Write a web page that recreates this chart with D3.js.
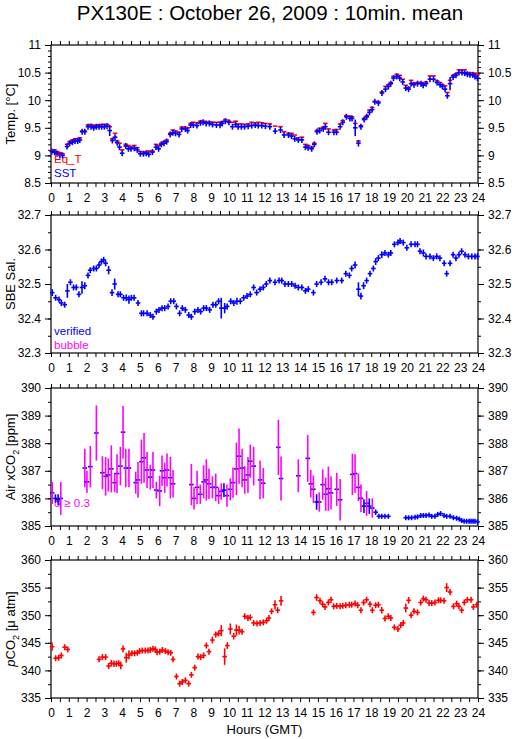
<!DOCTYPE html>
<html><head><meta charset="utf-8">
<script src="https://cdn.jsdelivr.net/npm/d3@7"></script>
<style>body{margin:0;background:#fff}svg{display:block}</style>
</head><body><svg id="c" width="515" height="739"></svg>
<script>
// ---------- DATA ----------
const hourLabels = d3.range(0, 25);
const tempTicks = [8.5, 9, 9.5, 10, 10.5, 11];
const salTicks = [32.3, 32.4, 32.5, 32.6, 32.7];
const xco2Ticks = [385, 386, 387, 388, 389, 390];
const pco2Ticks = [335, 340, 345, 350, 355, 360];

// [hour, SST, sd, Eq_T]
const tempData = [
[0.05,9.07,0.02,9.08],[0.2,9.06,0.02,9.1],[0.35,9.03,0.02,9.07],[0.5,9.0,0.02,9.05],[0.65,9.0,0.02,9.03],
[0.9,9.16,0.03,9.2],[1.05,9.22,0.02,9.25],[1.2,9.24,0.02,9.28],[1.35,9.26,0.02,9.3],[1.5,9.26,0.02,9.3],
[1.62,9.28,0.02,9.32],[1.75,9.43,0.03,9.44],[1.9,9.43,0.03,9.44],[2.08,9.52,0.02,9.55],[2.25,9.52,0.02,9.56],
[2.4,9.5,0.02,9.54],[2.55,9.52,0.02,9.55],[2.7,9.52,0.02,9.55],[2.85,9.52,0.02,9.56],[3.0,9.52,0.02,9.56],
[3.15,9.53,0.02,9.56],[3.3,9.45,0.1,9.52],[3.45,9.27,0.03,9.3],[3.6,9.33,0.05,9.4],[3.72,9.23,0.03,9.26],
[3.85,9.15,0.04,9.22],[4.0,9.04,0.04,9.1],[4.2,9.17,0.02,9.2],[4.35,9.12,0.03,9.18],[4.5,9.12,0.02,9.15],
[4.68,9.13,0.02,9.18],[4.85,9.1,0.02,9.14],[5.02,9.03,0.02,9.07],[5.2,9.03,0.02,9.06],[5.35,9.04,0.02,9.06],
[5.5,9.02,0.02,9.08],[5.7,9.06,0.02,9.08],[5.9,9.15,0.02,9.2],[6.05,9.12,0.02,9.18],[6.2,9.2,0.02,9.22],
[6.35,9.22,0.02,9.25],[6.5,9.25,0.02,9.28],[6.7,9.38,0.04,9.4],[6.85,9.41,0.02,9.46],[7.0,9.4,0.02,9.44],
[7.2,9.38,0.04,9.42],[7.35,9.48,0.02,9.51],[7.55,9.48,0.02,9.51],[7.68,9.45,0.02,9.5],[7.85,9.55,0.02,9.58],
[8.0,9.55,0.02,9.6],[8.2,9.54,0.02,9.59],[8.4,9.59,0.03,9.62],[8.55,9.6,0.02,9.62],[8.72,9.58,0.02,9.6],
[8.9,9.58,0.02,9.61],[9.08,9.56,0.02,9.6],[9.3,9.55,0.02,9.6],[9.5,9.55,0.06,9.6],[9.62,9.58,0.02,9.61],
[9.8,9.62,0.03,9.65],[10.0,9.6,0.02,9.62],[10.2,9.52,0.03,9.6],[10.38,9.56,0.02,9.62],[10.52,9.52,0.03,9.57],
[10.7,9.52,0.02,9.57],[10.88,9.52,0.02,9.56],[11.08,9.53,0.02,9.57],[11.28,9.54,0.02,9.6],[11.48,9.55,0.02,9.59],
[11.65,9.54,0.02,9.6],[11.85,9.54,0.02,9.59],[12.05,9.53,0.02,9.58],[12.3,9.52,0.02,9.57],[12.6,9.44,0.03,9.53],
[12.9,9.46,0.02,9.52],[13.1,9.37,0.02,9.43],[13.35,9.37,0.02,9.4],[13.52,9.35,0.02,9.4],[13.7,9.3,0.02,9.37],
[13.9,9.28,0.02,9.32],[14.1,9.28,0.04,9.33],[14.3,9.15,0.02,9.2],[14.45,9.14,0.02,9.18],[14.65,9.12,0.02,9.15],
[14.8,9.2,0.04,9.22],[14.95,9.43,0.03,9.45],[15.1,9.45,0.02,9.49],[15.3,9.48,0.02,9.51],[15.42,9.52,0.02,9.58],
[15.6,9.42,0.02,9.48],[15.9,9.42,0.02,9.46],[16.05,9.42,0.02,9.47],[16.25,9.52,0.03,9.57],[16.4,9.6,0.02,9.63],
[16.6,9.7,0.02,9.72],[16.8,9.67,0.02,9.71],[16.92,9.67,0.02,9.7],[17.1,9.5,0.15,9.58],[17.28,9.22,0.06,9.26],
[17.42,9.52,0.05,9.54],[17.6,9.65,0.02,9.67],[17.75,9.7,0.02,9.72],[17.9,9.78,0.03,9.82],[18.05,9.83,0.02,9.87],
[18.2,9.97,0.03,9.98],[18.4,9.95,0.02,9.97],[18.6,10.13,0.04,10.15],[18.8,10.2,0.02,10.25],[18.96,10.25,0.03,10.28],
[19.1,10.3,0.03,10.32],[19.25,10.4,0.02,10.43],[19.43,10.43,0.02,10.47],[19.6,10.4,0.04,10.45],[19.77,10.33,0.03,10.38],
[19.94,10.22,0.02,10.27],[20.1,10.2,0.04,10.23],[20.24,10.3,0.03,10.36],[20.4,10.28,0.02,10.31],[20.6,10.3,0.02,10.32],
[20.8,10.3,0.02,10.32],[20.92,10.27,0.02,10.3],[21.08,10.3,0.03,10.33],[21.3,10.38,0.02,10.44],[21.5,10.38,0.02,10.44],
[21.7,10.32,0.02,10.35],[21.87,10.28,0.02,10.32],[22.0,10.25,0.04,10.28],[22.15,10.2,0.02,10.26],[22.28,10.08,0.03,10.14],
[22.43,10.3,0.12,10.36],[22.6,10.42,0.04,10.45],[22.76,10.45,0.02,10.48],[22.93,10.5,0.02,10.55],[23.1,10.5,0.02,10.55],
[23.25,10.49,0.02,10.55],[23.4,10.47,0.02,10.5],[23.55,10.46,0.02,10.49],[23.7,10.46,0.02,10.49],[23.83,10.43,0.02,10.49],
[23.97,10.4,0.02,10.46]
];

// [hour, salinity, sd]
const salData = [
[0.07,32.475,0.01],[0.26,32.46,0.004],[0.45,32.455,0.004],[0.58,32.445,0.005],[0.77,32.44,0.004],[0.92,32.48,0.02],
[1.09,32.505,0.006],[1.27,32.49,0.005],[1.42,32.49,0.006],[1.57,32.47,0.007],[1.74,32.49,0.018],[1.9,32.495,0.01],
[2.08,32.525,0.004],[2.2,32.54,0.007],[2.4,32.545,0.008],[2.55,32.545,0.008],[2.7,32.555,0.006],[2.83,32.565,0.006],
[2.96,32.57,0.005],[3.07,32.56,0.004],[3.24,32.54,0.012],[3.43,32.475,0.01],[3.58,32.5,0.016],[3.77,32.47,0.007],
[3.9,32.47,0.006],[4.08,32.46,0.005],[4.23,32.46,0.01],[4.38,32.455,0.012],[4.52,32.46,0.005],[4.67,32.46,0.004],
[4.89,32.445,0.004],[5.08,32.415,0.008],[5.2,32.415,0.005],[5.4,32.415,0.004],[5.58,32.41,0.004],[5.73,32.405,0.004],
[5.92,32.42,0.006],[6.07,32.425,0.008],[6.24,32.43,0.006],[6.39,32.43,0.004],[6.58,32.435,0.004],[6.73,32.45,0.008],
[6.9,32.45,0.006],[7.05,32.435,0.004],[7.23,32.415,0.008],[7.38,32.43,0.005],[7.55,32.425,0.005],[7.74,32.41,0.005],
[7.89,32.405,0.008],[8.08,32.42,0.004],[8.26,32.425,0.004],[8.41,32.42,0.005],[8.58,32.43,0.006],[8.73,32.43,0.004],
[8.92,32.425,0.004],[9.1,32.44,0.005],[9.26,32.44,0.005],[9.42,32.45,0.007],[9.57,32.43,0.03],[9.76,32.43,0.015],
[9.9,32.435,0.005],[10.1,32.45,0.006],[10.27,32.445,0.008],[10.45,32.45,0.01],[10.64,32.45,0.008],[10.83,32.46,0.004],
[11.02,32.465,0.004],[11.2,32.47,0.006],[11.39,32.49,0.004],[11.56,32.475,0.007],[11.75,32.485,0.006],[11.93,32.49,0.005],
[12.1,32.5,0.006],[12.3,32.51,0.004],[12.59,32.505,0.008],[12.82,32.51,0.006],[12.97,32.51,0.004],[13.15,32.5,0.004],
[13.34,32.5,0.004],[13.53,32.5,0.004],[13.72,32.495,0.004],[13.9,32.49,0.004],[14.1,32.49,0.006],[14.3,32.48,0.004],
[14.46,32.485,0.004],[14.75,32.475,0.004],[14.93,32.5,0.008],[15.18,32.505,0.004],[15.4,32.515,0.006],[15.6,32.505,0.008],
[15.78,32.505,0.004],[16.06,32.51,0.005],[16.34,32.51,0.004],[16.57,32.53,0.008],[16.77,32.525,0.004],[16.9,32.545,0.006],
[17.09,32.555,0.01],[17.28,32.485,0.02],[17.42,32.465,0.01],[17.57,32.495,0.01],[17.74,32.51,0.006],[17.93,32.53,0.007],
[18.12,32.545,0.004],[18.25,32.565,0.01],[18.4,32.575,0.008],[18.59,32.585,0.01],[18.77,32.59,0.006],[18.96,32.585,0.004],
[19.1,32.59,0.008],[19.3,32.615,0.004],[19.5,32.62,0.004],[19.62,32.625,0.003],[19.8,32.62,0.006],[20.0,32.605,0.006],
[20.24,32.615,0.004],[20.46,32.615,0.004],[20.6,32.615,0.008],[20.74,32.595,0.004],[20.93,32.59,0.01],[21.08,32.58,0.008],
[21.3,32.58,0.004],[21.49,32.575,0.004],[21.68,32.58,0.003],[21.86,32.575,0.004],[22.1,32.56,0.008],[22.24,32.53,0.008],
[22.43,32.56,0.008],[22.6,32.585,0.004],[22.76,32.575,0.005],[22.93,32.585,0.007],[23.08,32.595,0.003],[23.27,32.585,0.005],
[23.46,32.58,0.003],[23.65,32.58,0.003],[23.83,32.58,0.003],[23.97,32.58,0.003]
];

// [hour, air xCO2, sd]
const xco2Data = [
[0.07,386.2,0.4],[0.25,386.0,0.15],[0.4,385.95,0.2],[0.55,386.0,0.6],
[1.9,387.1,0.7],[2.02,386.6,0.4],[2.21,387.15,0.75],[2.55,388.37,1.0],[2.89,386.93,0.6],[3.07,386.8,0.7],
[3.22,386.85,0.6],[3.39,387.07,0.85],[3.58,386.57,0.35],[3.71,386.9,0.7],[3.9,387.17,0.7],[4.05,388.4,0.95],
[4.2,387.1,0.7],[4.38,387.1,0.7],[4.76,386.57,0.4],[4.89,386.67,0.65],[5.08,387.33,0.8],[5.23,387.47,0.9],
[5.4,387.03,0.65],[5.58,386.77,0.45],[5.73,387.03,0.65],[5.92,386.3,0.3],[6.11,386.27,0.55],[6.24,387.0,0.55],
[6.39,386.75,0.55],[6.52,387.03,0.6],[6.71,386.75,0.75],[6.86,386.53,0.5],
[7.89,386.5,0.75],[8.04,386.0,0.4],[8.21,386.4,0.6],[8.39,386.15,0.35],[8.58,386.6,0.6],[8.73,386.67,0.75],
[8.88,386.53,0.55],[9.07,386.4,0.4],[9.26,386.4,0.5],[9.42,386.1,0.3],[9.57,386.25,0.3],[9.72,386.3,0.25],
[9.89,386.1,0.4],[10.08,386.33,0.4],[10.23,386.57,0.55],[10.42,387.07,0.95],[10.57,387.53,1.0],[10.74,387.1,0.7],
[10.89,386.67,0.5],[11.07,386.85,0.65],[11.2,387.35,0.6],[11.39,387.17,0.7],[11.75,386.67,0.7],[11.93,386.55,0.55],
[12.78,387.85,1.0],[12.93,386.72,0.8],[13.9,386.82,0.6],[14.43,387.45,0.85],[14.6,386.53,0.5],[14.75,386.33,0.5],
[14.93,385.87,0.28],[15.08,385.87,0.35],[15.27,386.5,0.55],[15.44,386.15,0.6],[15.59,386.35,0.8],[15.74,386.2,0.6],
[16.06,386.33,0.6],[16.25,385.95,0.75],
[16.94,386.87,0.75],[17.09,386.9,0.7],[17.28,386.4,0.5],[17.42,386.0,0.5],[17.59,385.72,0.25],[17.74,385.82,0.45],
[17.89,385.72,0.28],[18.06,385.65,0.35],[18.25,385.5,0.1],[18.43,385.35,0.03],[18.59,385.35,0.03],[18.77,385.35,0.03],
[18.96,385.35,0.03],
[19.94,385.3,0.05],[20.1,385.3,0.03],[20.27,385.3,0.03],[20.46,385.32,0.03],[20.6,385.33,0.03],[20.78,385.38,0.04],
[20.93,385.38,0.03],[21.08,385.38,0.03],[21.25,385.4,0.03],[21.4,385.35,0.03],[21.58,385.35,0.03],[21.74,385.42,0.03],
[21.9,385.45,0.04],[22.09,385.38,0.04],[22.24,385.35,0.03],[22.43,385.35,0.03],[22.62,385.3,0.03],[22.8,385.28,0.03],
[22.95,385.25,0.03],[23.08,385.2,0.03],[23.22,385.17,0.03],[23.36,385.17,0.03],[23.5,385.17,0.03],[23.61,385.17,0.03],
[23.72,385.17,0.03],[23.83,385.17,0.03],[23.97,385.15,0.03]
];

// [hour, pCO2, sd]
const pco2Data = [
[0.06,344.3,0.75],[0.26,342.2,0.15],[0.43,342.3,0.15],[0.58,342.7,0.5],[0.77,344.2,0.15],[0.94,343.8,0.4],
[2.7,342.0,0.2],[2.89,342.4,0.2],[3.07,342.4,0.2],[3.24,340.8,0.5],[3.39,341.3,0.6],[3.54,341.2,0.6],
[3.67,341.2,0.3],[3.8,341.3,0.3],[3.92,340.9,0.7],[4.05,343.9,0.6],[4.23,342.3,0.9],[4.38,342.8,0.8],
[4.55,343.1,0.3],[4.7,343.1,0.4],[4.85,343.2,0.2],[4.98,343.5,0.2],[5.13,343.6,0.2],[5.3,343.6,0.15],
[5.45,343.6,0.15],[5.58,343.7,0.2],[5.73,343.9,0.2],[5.86,343.8,0.15],[5.96,343.3,0.15],[6.11,343.4,0.15],
[6.26,343.7,0.15],[6.43,343.5,0.15],[6.58,343.3,0.15],[6.73,343.2,0.2],[6.86,342.0,0.5],[7.05,338.9,0.3],
[7.23,337.6,0.3],[7.38,337.9,0.2],[7.55,338.2,0.2],[7.74,337.6,0.2],[7.89,339.2,0.5],[8.08,340.5,0.5],
[8.26,342.5,0.2],[8.41,342.4,0.2],[8.58,342.7,0.5],[8.73,344.5,0.2],[8.88,343.4,0.3],[9.07,345.5,0.6],
[9.26,346.5,0.3],[9.42,346.7,0.2],[9.57,347.2,1.0],[9.76,342.5,1.5],[9.91,344.5,0.6],[10.08,347.5,1.0],
[10.27,346.2,0.6],[10.42,347.3,1.0],[10.57,347.3,0.8],[10.74,347.0,0.5],[10.89,349.8,0.2],[11.07,349.5,0.4],
[11.2,349.6,0.2],[11.39,348.6,0.15],[11.58,348.5,0.15],[11.75,348.6,0.1],[11.93,348.7,0.1],[12.12,349.0,0.15],
[12.25,349.5,0.4],[12.4,350.7,0.15],[12.59,351.9,0.8],[12.74,350.9,0.5],[12.93,352.6,0.9],
[14.75,350.5,0.2],[14.93,353.2,0.6],[15.12,352.6,0.2],[15.27,352.0,0.3],[15.4,351.5,0.2],[15.59,352.3,0.5],
[15.74,352.8,0.4],[15.89,351.6,0.15],[16.06,351.7,0.2],[16.25,351.6,0.15],[16.4,351.7,0.2],[16.57,351.8,0.5],
[16.77,351.9,0.4],[16.9,351.9,0.2],[17.09,352.1,0.3],[17.24,351.8,0.5],[17.42,350.9,0.4],[17.57,352.3,0.2],
[17.74,352.8,0.2],[17.93,352.0,0.4],[18.06,350.9,0.2],[18.25,351.8,0.5],[18.4,351.9,0.5],[18.59,350.9,0.6],
[18.77,349.4,0.2],[18.96,349.8,0.2],[19.1,349.5,0.5],[19.3,347.8,0.15],[19.5,347.5,0.15],[19.66,348.2,0.15],
[19.8,348.6,0.2],[19.94,351.3,0.8],[20.1,352.7,0.6],[20.24,350.0,0.4],[20.4,350.7,0.2],[20.6,350.5,0.4],
[20.78,352.3,0.4],[20.93,353.0,0.2],[21.08,352.8,0.4],[21.25,352.2,0.2],[21.4,352.2,0.15],[21.58,352.3,0.15],
[21.78,352.7,0.2],[21.9,352.7,0.2],[22.09,352.6,0.4],[22.24,355.0,0.8],[22.43,354.2,0.6],[22.62,351.6,0.2],
[22.8,352.1,0.2],[22.93,351.6,0.2],[23.08,350.9,0.2],[23.23,352.3,0.4],[23.4,352.8,0.2],[23.61,352.8,0.2],
[23.74,351.5,0.2],[23.93,351.9,0.2]
];

// ---------- LAYOUT ----------
const BLUE = "#0000ff", RED = "#ff0000", MAG = "#ff00ff";
const FONT = "'Liberation Sans', Arial, Helvetica, sans-serif";
const left = 51, right = 478, ph = 138;
const svg = d3.select("#c");
const x = d3.scaleLinear().domain([0, 24]).range([left, right]);
const halfStep = 1 / 12;

svg.append("text").attr("x", 270).attr("y", 20).attr("text-anchor", "middle")
  .attr("font-family", FONT).attr("font-size", 20.5).text("PX130E : October 26, 2009 : 10min. mean");

function panel(top, domain, major, minorStep, title) {
  const y = d3.scaleLinear().domain(domain).range([top + ph, top]);
  const g = svg.append("g");
  const minor = d3.range(domain[0], domain[1] + minorStep / 2, minorStep);
  const style = a => a.attr("font-family", FONT).attr("font-size", 12)
      .call(s => s.selectAll(".domain").remove())
      .call(s => s.selectAll("line").attr("stroke", "#000"))
      .call(s => s.selectAll("text").attr("fill", "#000"));
  g.append("g").attr("transform", `translate(0,${top + ph})`)
    .call(d3.axisBottom(x).tickValues(d3.range(0, 24.01, 0.5)).tickSize(4).tickFormat(""))
    .call(style);
  g.append("g").attr("transform", `translate(0,${top + ph})`)
    .call(d3.axisBottom(x).tickValues(hourLabels).tickSize(4).tickPadding(6).tickFormat(d3.format("d")))
    .call(style).call(s => s.selectAll("line").remove());
  g.append("g").attr("transform", `translate(0,${top})`)
    .call(d3.axisTop(x).tickValues(d3.range(0, 24.01, 0.5)).tickSize(4).tickFormat(""))
    .call(style);
  g.append("g").attr("transform", `translate(${left},0)`)
    .call(d3.axisLeft(y).tickValues(minor).tickSize(3).tickFormat("")).call(style);
  g.append("g").attr("transform", `translate(${left},0)`)
    .call(d3.axisLeft(y).tickValues(major).tickSize(6).tickPadding(4).tickFormat(d => String(d))).call(style);
  g.append("g").attr("transform", `translate(${right},0)`)
    .call(d3.axisRight(y).tickValues(minor).tickSize(3).tickFormat("")).call(style);
  g.append("g").attr("transform", `translate(${right},0)`)
    .call(d3.axisRight(y).tickValues(major).tickSize(6).tickPadding(4).tickFormat(d => String(d))).call(style);
  g.append("rect").attr("x", left).attr("y", top).attr("width", right - left).attr("height", ph)
    .attr("fill", "none").attr("stroke", "#000").attr("stroke-width", 1.2);
  const t = g.append("text").attr("transform", `translate(15,${top + ph / 2}) rotate(-90)`)
    .attr("text-anchor", "middle").attr("font-family", FONT).attr("font-size", 13);
  title(t);
  const data = g.append("g");
  return {y, g: data, top};
}

function marks(p, rows, vi, si, colorFn, minHalf, dashOnly) {
  const y = p.y;
  const sel = p.g.append("g").selectAll("g").data(rows).join("g");
  sel.append("line")
    .attr("x1", d => x(d[0] - halfStep)).attr("x2", d => x(d[0] + halfStep))
    .attr("y1", d => y(d[vi])).attr("y2", d => y(d[vi]))
    .attr("stroke", d => colorFn(d, "h")).attr("stroke-width", 1.6).attr("stroke-linecap", "square");
  if (!dashOnly) {
    sel.append("line")
      .attr("x1", d => x(d[0])).attr("x2", d => x(d[0]))
      .attr("y1", d => Math.min(y(d[vi] + d[si]), y(d[vi]) - minHalf))
      .attr("y2", d => Math.max(y(d[vi] - d[si]), y(d[vi]) + minHalf))
      .attr("stroke", d => colorFn(d, "v")).attr("stroke-width", 1.6);
  }
}

function legend(p, items, xx) {
  items.forEach(([txt, col, yy]) => {
    p.g.append("text").attr("x", xx).attr("y", yy).attr("font-family", FONT)
      .attr("font-size", 11.5).attr("fill", col).text(txt);
  });
}

// Panel 1: temperature
const p1 = panel(45, [8.5, 11], tempTicks, 0.1, t => t.text("Temp. [°C]"));
marks(p1, tempData, 3, 2, () => RED, 0, true);
marks(p1, tempData, 1, 2, () => BLUE, 3, false);
legend(p1, [["Eq_T", RED, 163], ["SST", BLUE, 177]], 54);

// Panel 2: salinity
const p2 = panel(215, [32.3, 32.7], salTicks, 0.05, t => t.text("SBE Sal."));
marks(p2, salData, 1, 2, () => BLUE, 3, false);
legend(p2, [["verified", BLUE, 335], ["bubble", MAG, 349]], 54);

// Panel 3: air xCO2
const p3 = panel(388, [385, 390], xco2Ticks, 0.5, t => {
  t.append("tspan").text("Air xCO");
  t.append("tspan").attr("font-size", 9).attr("dy", 4).text("2");
  t.append("tspan").attr("dy", -4).text(" [ppm]");
});
legend(p3, [["σ ≥ 0.3", MAG, 507]], 54);
marks(p3, xco2Data, 1, 2, (d, k) => (k === "v" && d[2] >= 0.3) ? MAG : BLUE, 2.5, false);

// Panel 4: pCO2
const p4 = panel(560, [335, 360], pco2Ticks, 2.5, t => {
  t.append("tspan").attr("font-style", "italic").text("p");
  t.append("tspan").text("CO");
  t.append("tspan").attr("font-size", 9).attr("dy", 4).text("2");
  t.append("tspan").attr("dy", -4).text(" [μ atm]");
});
marks(p4, pco2Data, 1, 2, () => RED, 3, false);

svg.append("text").attr("x", (left + right) / 2).attr("y", 734).attr("text-anchor", "middle")
  .attr("font-family", FONT).attr("font-size", 13).text("Hours (GMT)");
</script>
</body></html>
